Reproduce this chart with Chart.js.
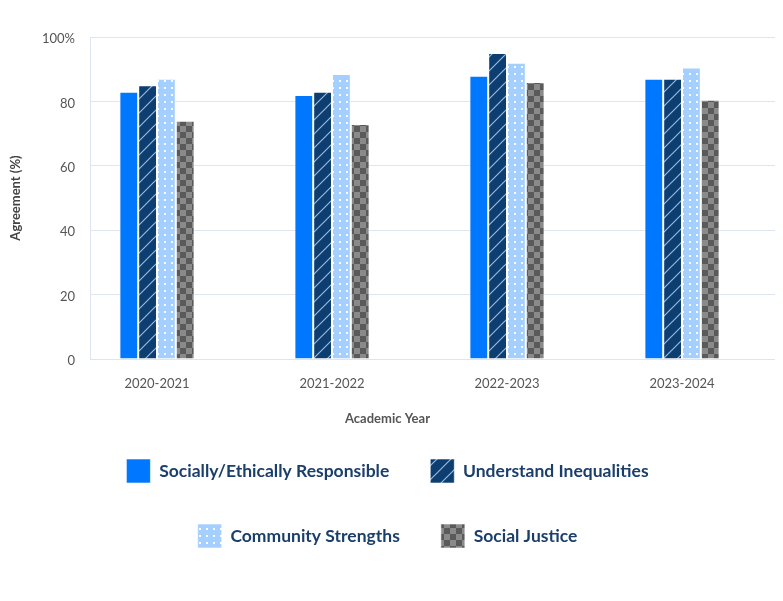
<!DOCTYPE html>
<html>
<head>
<meta charset="utf-8">
<script src="https://cdn.jsdelivr.net/npm/chart.js@4.4.1/dist/chart.umd.min.js"></script>
<style>
  html, body { margin: 0; padding: 0; background: #fff; }
  #wrap { width: 783px; height: 601px; position: relative; }
</style>
</head>
<body>
<div id="wrap"><canvas id="chart"></canvas></div>
<script>
// Agreement (%) by academic year
const years = ["2020-2021", "2021-2022", "2022-2023", "2023-2024"];
const responsible = [83, 82, 88, 87];
const inequalities = [85, 83, 95, 87];
const strengths = [87, 88.5, 92, 90.5];
const justice = [74, 73, 86, 80.5];
const yTicks = [0, 20, 40, 60, 80, 100];

const canvas = document.getElementById("chart");
const ctx = canvas.getContext("2d");

function makePattern(size, draw) {
  const c = document.createElement("canvas");
  c.width = size;
  c.height = size;
  draw(c.getContext("2d"), size);
  return ctx.createPattern(c, "repeat");
}

const hatch = makePattern(14, (g, s) => {
  g.fillStyle = "#0c3e72";
  g.fillRect(0, 0, s, s);
  g.strokeStyle = "rgba(185,204,228,0.85)";
  g.lineWidth = 1.2;
  g.beginPath();
  g.moveTo(0, s); g.lineTo(s, 0);
  g.moveTo(-s / 2, s / 2); g.lineTo(s / 2, -s / 2);
  g.moveTo(s / 2, s * 1.5); g.lineTo(s * 1.5, s / 2);
  g.stroke();
});

const dots = makePattern(7, (g, s) => {
  g.fillStyle = "#a4cfff";
  g.fillRect(0, 0, s, s);
  g.fillStyle = "rgba(255,255,255,0.95)";
  g.fillRect(3, 3, 2, 2);
});

const checker = makePattern(12, (g, s) => {
  g.fillStyle = "#8a8a8a";
  g.fillRect(0, 0, s, s);
  g.fillStyle = "#5a5a5a";
  g.fillRect(0, 0, s / 2, s / 2);
  g.fillRect(s / 2, s / 2, s / 2, s / 2);
});

// category centres sit a bit left of the plot frame in the original
const xOffset = {
  id: "xOffset",
  afterLayout(chart) {
    const x = chart.scales.x;
    x.left -= 20.5;
    x.right -= 5.5;
    x.width = x.right - x.left;
    x.configure();
  },
};

const font = "Lato";
const barBorder = "rgba(255,255,255,0.55)";

new Chart(canvas, {
  type: "bar",
  data: {
    labels: years,
    datasets: [
      { label: "Socially/Ethically Responsible", data: responsible, backgroundColor: "#0077ff", borderColor: barBorder, borderWidth: 1 },
      { label: "Understand Inequalities", data: inequalities, backgroundColor: hatch, borderColor: barBorder, borderWidth: 1 },
      { label: "Community Strengths", data: strengths, backgroundColor: dots, borderColor: barBorder, borderWidth: 1 },
      { label: "Social Justice", data: justice, backgroundColor: checker, borderColor: barBorder, borderWidth: 1 },
    ],
  },
  options: {
    responsive: true,
    maintainAspectRatio: false,
    animation: false,
    categoryPercentage: 0.43,
    barPercentage: 1.0,
    layout: { padding: { top: 37, right: 8, bottom: 43, left: 0 } },
    scales: {
      x: {
        afterFit: (s) => { s.height = 32.6; },
        grid: { display: false, drawTicks: false },
        border: { display: false },
        ticks: { padding: 17, color: "#555", font: { family: font, size: 13 } },
      },
      y: {
        min: 0,
        max: 100,
        afterFit: (s) => { s.width = 90; },
        afterBuildTicks: (s) => { s.ticks = yTicks.map((v) => ({ value: v })); },
        grid: { color: "#dde5ef", drawTicks: false },
        border: { display: true, color: "#dde5ef" },
        ticks: {
          padding: 15,
          labelOffset: 2,
          color: "#555",
          font: { family: font, size: 13 },
          callback: (v) => (v === 100 ? "100%" : v),
        },
        title: {
          display: true,
          text: "Agreement (%)",
          color: "#444",
          font: { family: font, size: 13, weight: "bold" },
          padding: { top: 8, bottom: 0 },
        },
      },
    },
    plugins: {
      tooltip: { enabled: false },
      title: {
        display: true,
        text: "Academic Year",
        position: "bottom",
        weight: 500,
        color: "#555",
        font: { family: font, size: 13, weight: "bold" },
        padding: { top: 19.6, bottom: -8.8 },
      },
      legend: {
        position: "bottom",
        labels: {
          boxWidth: 24,
          boxHeight: 24,
          padding: 41,
          color: "#1b3f6b",
          font: { family: font, size: 17.5, weight: "bold" },
        },
      },
    },
  },
  plugins: [xOffset],
});
</script>
</body>
</html>
